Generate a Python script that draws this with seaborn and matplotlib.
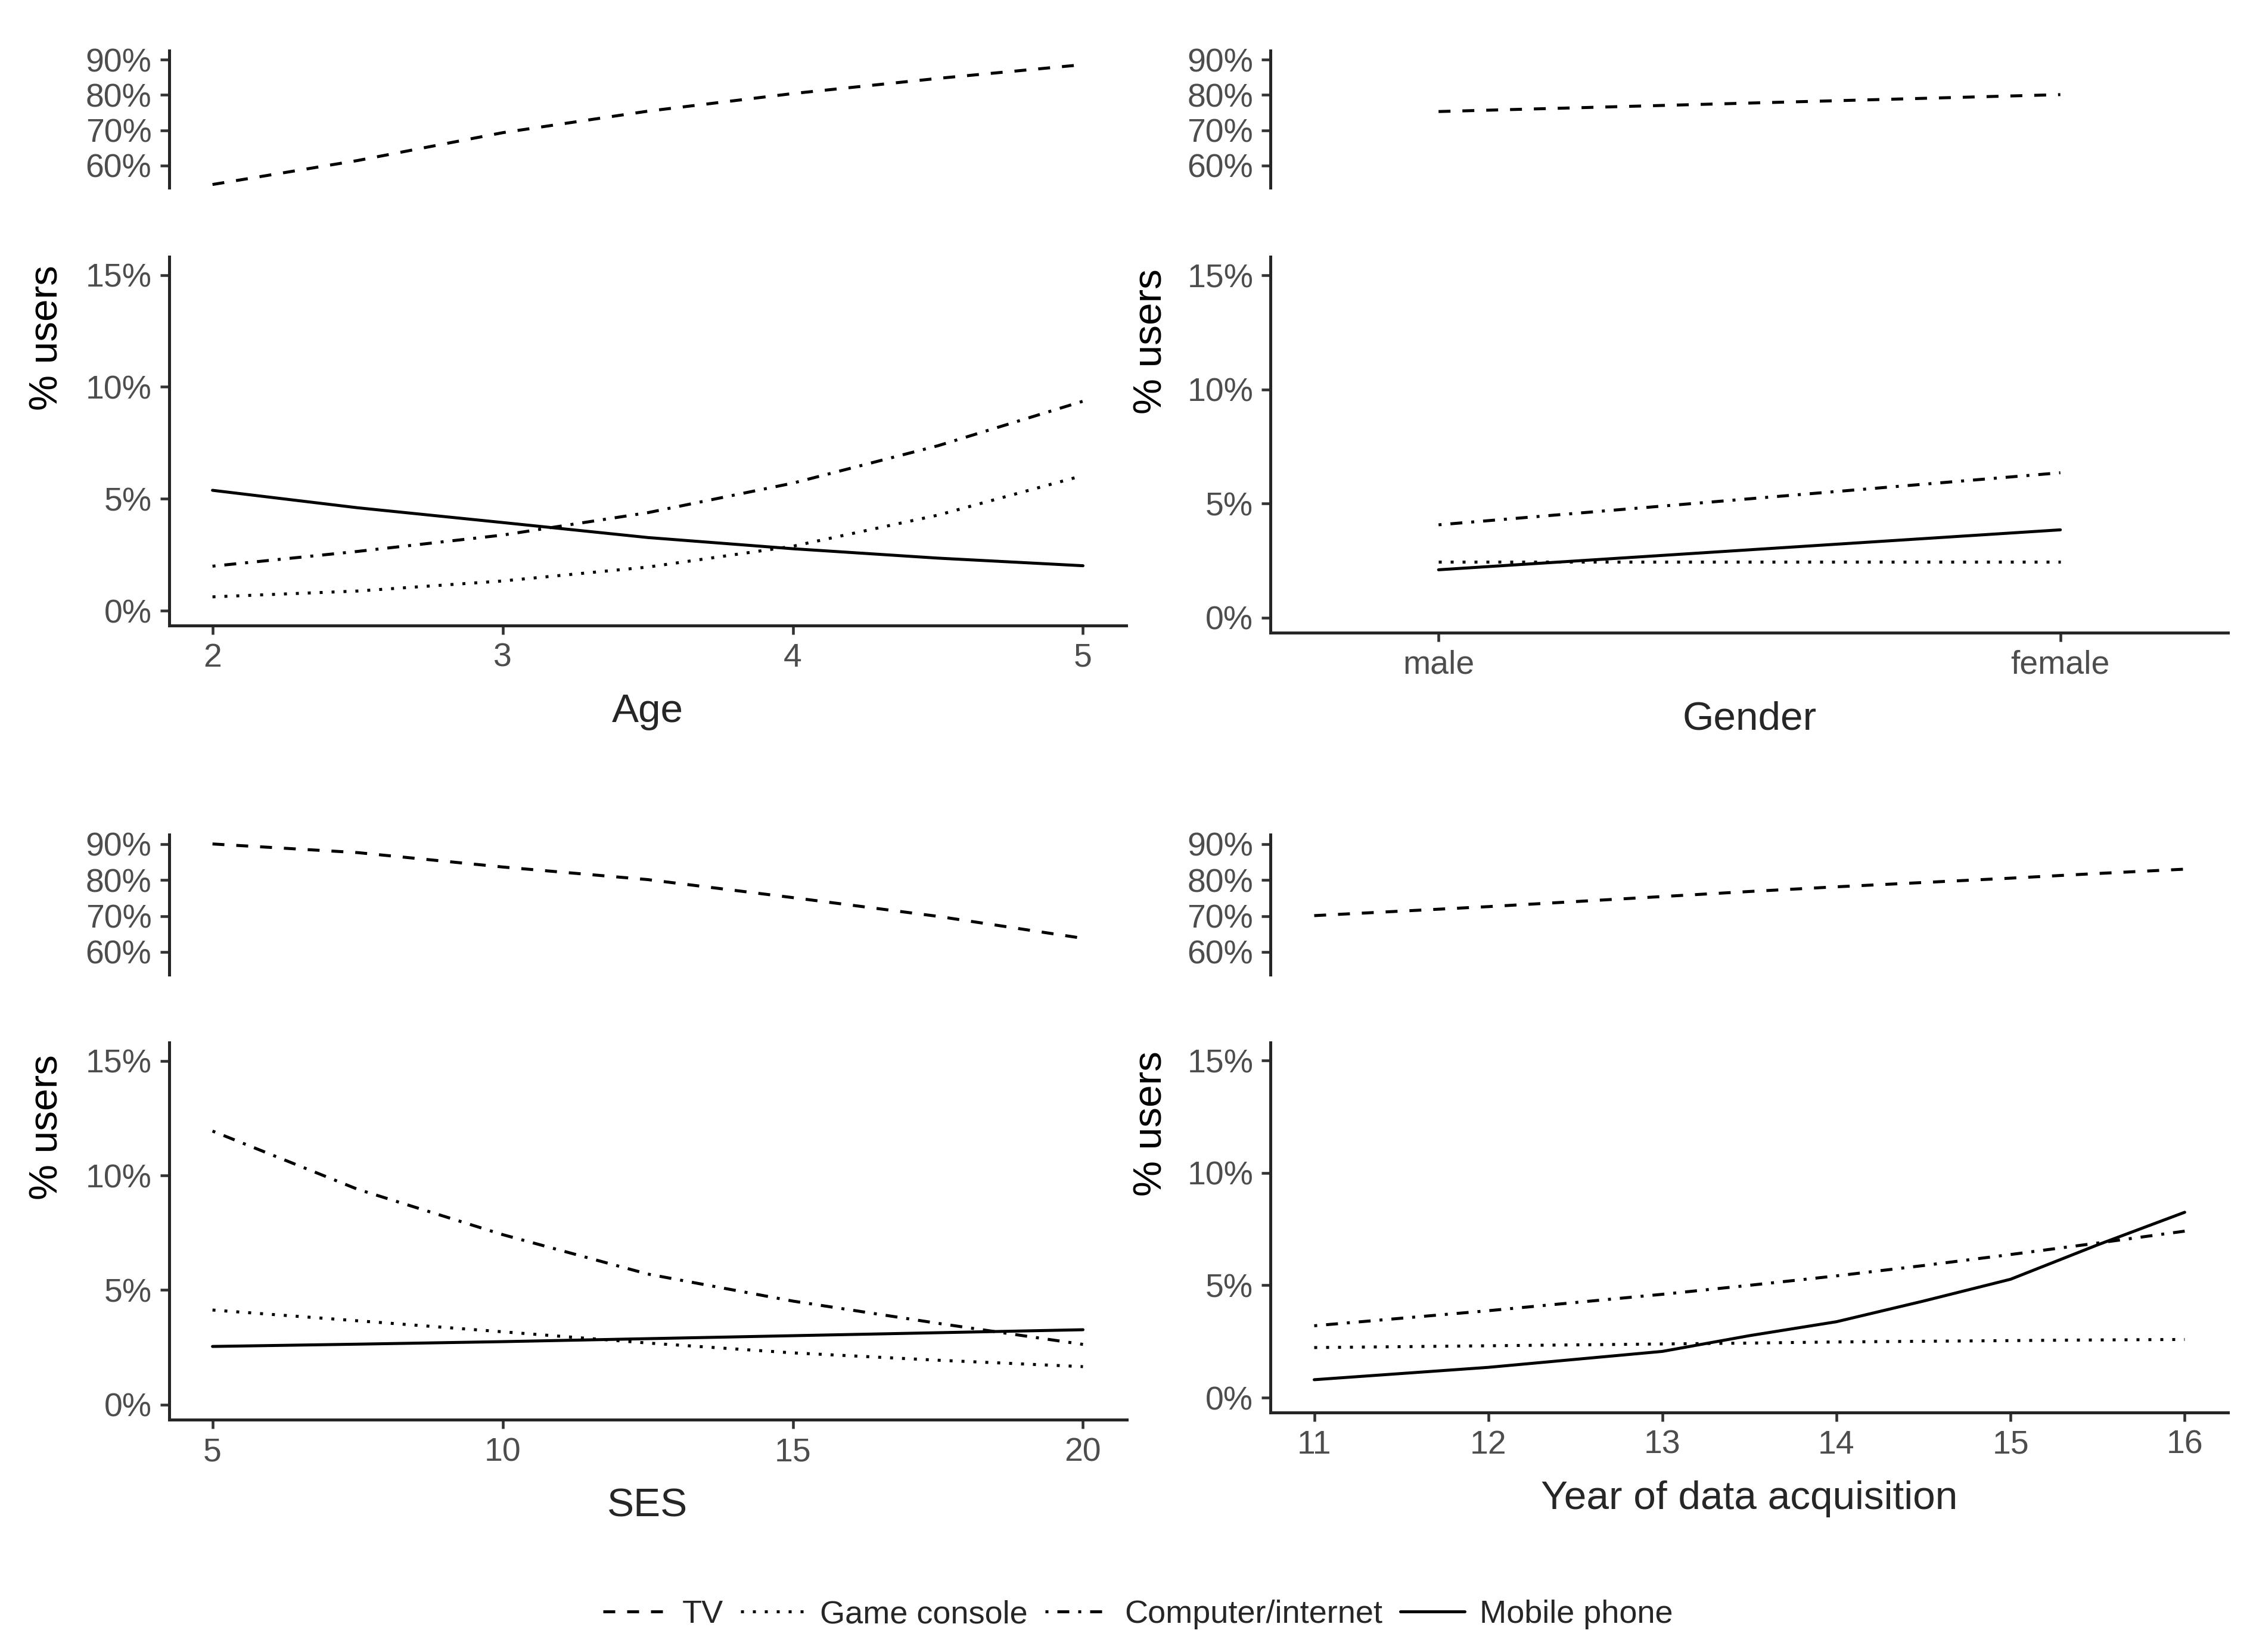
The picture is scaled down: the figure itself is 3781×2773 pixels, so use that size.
import numpy as np
import pandas as pd
import matplotlib.pyplot as plt
import seaborn as sns

# ---- data (percent of users) ----
age_x = [2, 2.5, 3, 3.5, 4, 4.5, 5]
age_tv = [54.6, 61.4, 69.3, 75.4, 80.4, 84.7, 88.6]
age_game = [0.62, 0.88, 1.33, 1.95, 2.88, 4.27, 6.04]
age_comp = [1.99, 2.65, 3.38, 4.38, 5.70, 7.37, 9.36]
age_mobile = [5.38, 4.60, 3.94, 3.27, 2.77, 2.35, 2.01]

gender_x = ["male", "female"]
gender_tv = [75.3, 80.1]
gender_game = [2.45, 2.45]
gender_comp = [4.07, 6.35]
gender_mobile = [2.10, 3.85]

ses_x = [5, 7.5, 10, 12.5, 15, 17.5, 20]
ses_tv = [90.0, 87.6, 83.6, 80.1, 75.1, 69.9, 63.8]
ses_game = [4.13, 3.66, 3.18, 2.69, 2.26, 1.94, 1.66]
ses_comp = [11.94, 9.40, 7.42, 5.70, 4.52, 3.55, 2.63]
ses_mobile = [2.54, 2.64, 2.75, 2.88, 3.01, 3.14, 3.27]

year_x = [11, 12, 13, 13.5, 14, 14.5, 15, 15.5, 16]
year_tv = [70.1, 72.6, 75.4, 76.8, 78.1, 79.3, 80.5, 81.8, 83.0]
year_game = [2.23, 2.31, 2.39, 2.43, 2.48, 2.51, 2.54, 2.57, 2.59]
year_comp = [3.20, 3.87, 4.60, 5.00, 5.42, 5.88, 6.37, 6.88, 7.41]
year_mobile = [0.80, 1.35, 2.06, 2.76, 3.38, 4.30, 5.27, 6.80, 8.25]

devices = ["TV", "Game console", "Computer/internet", "Mobile phone"]
dash_map = {"TV": (4, 4), "Game console": (1, 3),
            "Computer/internet": (1, 3, 4, 3), "Mobile phone": ""}

panels = [
    ("Age", age_x, age_tv, age_game, age_comp, age_mobile, (1.85, 5.15), [2, 3, 4, 5]),
    ("Gender", gender_x, gender_tv, gender_game, gender_comp, gender_mobile, (-0.27, 1.27), None),
    ("SES", ses_x, ses_tv, ses_game, ses_comp, ses_mobile, (4.25, 20.75), [5, 10, 15, 20]),
    ("Year of data acquisition", year_x, year_tv, year_game, year_comp, year_mobile,
     (10.75, 16.25), [11, 12, 13, 14, 15, 16]),
]

# axes boxes: (left, upper_bottom, upper_height, lower_bottom, lower_height)
boxes = [
    (0.075, 0.8864, 0.083, 0.6215, 0.2229),
    (0.564, 0.8864, 0.083, 0.6171, 0.2273),
    (0.075, 0.4100, 0.0848, 0.1407, 0.2282),
    (0.564, 0.4100, 0.0848, 0.1451, 0.2238),
]
ylab_x = [0.021, 0.511, 0.021, 0.511]

sns.set_theme(style="ticks")
plt.rcParams['font.family'] = ['Liberation Sans', 'DejaVu Sans']
plt.rcParams['axes.linewidth'] = 1.2
plt.rcParams['xtick.major.width'] = 1.1
plt.rcParams['ytick.major.width'] = 1.1
plt.rcParams['xtick.major.size'] = 3.5
plt.rcParams['ytick.major.size'] = 3.5
plt.rcParams['xtick.color'] = '#333333'
plt.rcParams['ytick.color'] = '#333333'
plt.rcParams['xtick.labelcolor'] = '#4D4D4D'
plt.rcParams['ytick.labelcolor'] = '#4D4D4D'

fig = plt.figure(figsize=(3781 / 300, 2773 / 300), dpi=300)

tick_fs = 13.3
title_fs = 16.2

for i, (name, xs, tv, game, comp, mob, xlim, xticks) in enumerate(panels):
    left, ub, uh, lb, lh = boxes[i]
    ax_up = fig.add_axes([left, ub, 0.425, uh])
    ax_lo = fig.add_axes([left, lb, 0.425, lh])

    up = pd.DataFrame({"x": xs, "pct": tv, "device": "TV"})
    lo = pd.concat([
        pd.DataFrame({"x": xs, "pct": game, "device": "Game console"}),
        pd.DataFrame({"x": xs, "pct": comp, "device": "Computer/internet"}),
        pd.DataFrame({"x": xs, "pct": mob, "device": "Mobile phone"}),
    ], ignore_index=True)

    sns.lineplot(data=up, x="x", y="pct", style="device", dashes=dash_map,
                 color="black", linewidth=1.2, ax=ax_up, legend=False, sort=False)
    sns.lineplot(data=lo, x="x", y="pct", style="device", dashes=dash_map,
                 color="black", linewidth=1.2, ax=ax_lo, legend=False, sort=False)

    # upper strip: only y axis
    ax_up.set_xlim(*xlim)
    ax_up.set_ylim(53.7, 92.6)
    ax_up.set_yticks([60, 70, 80, 90])
    ax_up.set_yticklabels(["60%", "70%", "80%", "90%"], fontsize=tick_fs)
    ax_up.set_xticks([])
    for s in ["top", "right", "bottom"]:
        ax_up.spines[s].set_visible(False)
    ax_up.set_xlabel("")
    ax_up.set_ylabel("")
    ax_up.tick_params(axis="y", pad=3.5)

    ax_lo.set_xlim(*xlim)
    ax_lo.set_ylim(-0.65, 15.8)
    ax_lo.set_yticks([0, 5, 10, 15])
    ax_lo.set_yticklabels(["0%", "5%", "10%", "15%"], fontsize=tick_fs)
    if xticks is not None:
        ax_lo.set_xticks(xticks)
        ax_lo.set_xticklabels([str(t) for t in xticks], fontsize=tick_fs)
    else:
        ax_lo.set_xticks([0, 1])
        ax_lo.set_xticklabels(xs, fontsize=tick_fs)
    ax_lo.tick_params(axis="both", pad=3.5)
    sns.despine(ax=ax_lo)
    ax_lo.set_xlabel(name, fontsize=title_fs, labelpad=8)
    ax_lo.set_ylabel("")

    # y label centred on the combined upper + lower area
    ytop = ub + uh
    fig.text(ylab_x[i], (lb + ytop) / 2, "% users", rotation=90,
             ha="center", va="center", fontsize=title_fs, color="black")

# shared legend
handles = []
for d in devices:
    dsh = dash_map[d]
    if dsh == "":
        h, = plt.plot([], [], color="black", linewidth=1.2, linestyle="-")
    else:
        h, = plt.plot([], [], color="black", linewidth=1.2, linestyle=(0, dsh))
    handles.append(h)
fig.legend(handles, devices, loc="center", bbox_to_anchor=(0.505, 0.0227), ncol=4,
           frameon=False, fontsize=13, handlelength=2.0, handletextpad=0.45,
           columnspacing=0.55)

fig.savefig("out.png", dpi=300)
